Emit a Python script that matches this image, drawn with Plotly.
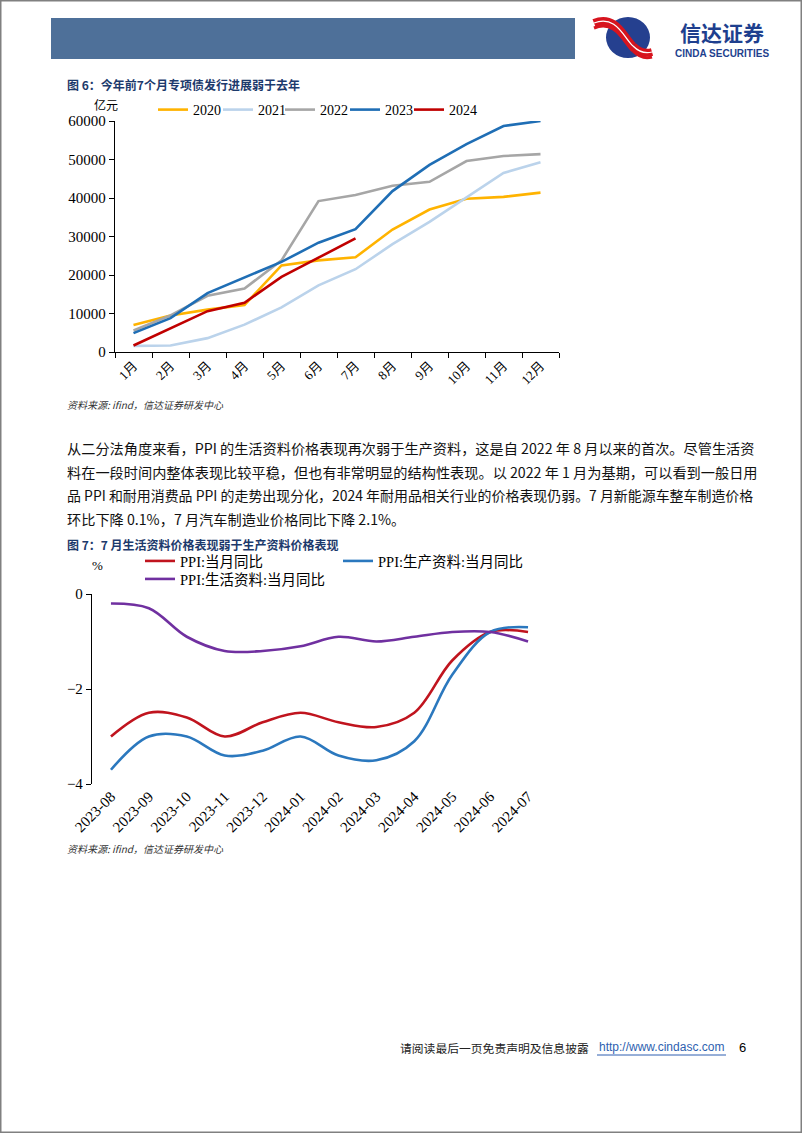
import plotly.graph_objects as go

W, H = 802, 1133
def px(x): return x / W
def py(y): return 1 - y / H

# ---------------- Data: chart 1 (专项债累计发行, 亿元) ----------------
months = ["1月", "2月", "3月", "4月", "5月", "6月", "7月", "8月", "9月", "10月", "11月", "12月"]
y2020 = [7000, 9500, 11000, 12200, 22500, 23800, 24600, 31800, 37000, 39800, 40300, 41400]
y2021 = [1600, 1700, 3600, 7100, 11600, 17300, 21500, 28000, 33800, 40200, 46500, 49300]
y2022 = [5600, 9500, 14600, 16500, 23800, 39200, 40800, 43200, 44200, 49600, 50900, 51400]
y2023 = [4900, 8800, 15300, 19300, 23400, 28400, 31900, 41800, 48600, 54000, 58700, 60000]
y2024 = [1700, 6200, 10600, 12800, 19500, 24500, 29500]

# ---------------- Data: chart 2 (PPI 当月同比, %) ----------------
periods = ["2023-08", "2023-09", "2023-10", "2023-11", "2023-12", "2024-01",
           "2024-02", "2024-03", "2024-04", "2024-05", "2024-06", "2024-07"]
ppi = [-3.0, -2.5, -2.6, -3.0, -2.7, -2.5, -2.7, -2.8, -2.5, -1.4, -0.8, -0.8]
ppi_prod = [-3.7, -3.0, -3.0, -3.4, -3.3, -3.0, -3.4, -3.5, -3.1, -1.7, -0.8, -0.7]
ppi_cons = [-0.2, -0.3, -0.9, -1.2, -1.2, -1.1, -0.9, -1.0, -0.9, -0.8, -0.8, -1.0]

SERIF = "Liberation Serif, Noto Sans CJK SC"
CJK = "Noto Sans CJK SC"
NAVY = "#1d3a6c"

fig = go.Figure()

# legend placement (sample-line start x, row centre y) for each series
c1 = [("2020", y2020, "#FFB300", "legend", 158),
      ("2021", y2021, "#BBD3EB", "legend4", 223),
      ("2022", y2022, "#A6A6A6", "legend5", 285),
      ("2023", y2023, "#1F6EB5", "legend6", 350),
      ("2024", y2024, "#C00000", "legend7", 414)]
for name, vals, col, lg, _ in c1:
    fig.add_trace(go.Scatter(x=months[:len(vals)], y=vals, name=name, mode="lines",
                             line=dict(color=col, width=2.6), xaxis="x", yaxis="y",
                             legend=lg))

c2 = [("PPI:当月同比", ppi, "#C0141E", "legend2", 145, 561),
      ("PPI:生产资料:当月同比", ppi_prod, "#2B78BE", "legend3", 343, 561),
      ("PPI:生活资料:当月同比", ppi_cons, "#7030A0", "legend8", 145, 579)]
for name, vals, col, lg, _, _ in c2:
    fig.add_trace(go.Scatter(x=periods, y=vals, name=name, mode="lines",
                             line=dict(color=col, width=2.6, shape="spline", smoothing=1.0),
                             xaxis="x2", yaxis="y2", legend=lg))

axis_common = dict(showgrid=False, zeroline=False, showline=True, linecolor="black",
                   linewidth=1.3, tickcolor="black", ticklen=5)

layout = dict(
    width=W, height=H, margin=dict(l=0, r=0, t=0, b=0, pad=0, autoexpand=False),
    paper_bgcolor="white", plot_bgcolor="white", showlegend=True,
    xaxis=dict(domain=[px(115), px(559)], anchor="y", type="category",
               range=[-0.5, 11.5], tickson="boundaries", ticks="outside",
               tickangle=-45, tickfont=dict(family=SERIF, size=13, color="black"),
               automargin=False, **axis_common),
    yaxis=dict(domain=[py(352), py(121)], anchor="x", range=[0, 60000], dtick=10000,
               ticks="outside", tickformat="d", automargin=False,
               tickfont=dict(family=SERIF, size=15, color="black"), **axis_common),
    xaxis2=dict(domain=[px(92), px(547)], anchor="y2", type="category",
                range=[-0.5, 11.5], ticks="", showline=False, showgrid=False,
                zeroline=False, tickangle=-45, automargin=False,
                tickfont=dict(family=SERIF, size=15, color="black")),
    xaxis3=dict(domain=[px(92), px(547)], anchor="y2", overlaying="x2", side="top",
                type="linear", range=[-0.5, 11.5], automargin=False,
                tickvals=[i - 0.5 for i in range(13)], ticks="inside",
                showticklabels=False, **axis_common),
    yaxis2=dict(domain=[py(784), py(594)], anchor="x2", range=[-4, 0], dtick=2,
                ticks="outside", tickfont=dict(family=SERIF, size=15, color="black"),
                automargin=False, **axis_common),
)
for name, vals, col, lg, x0 in c1:
    layout[lg] = dict(orientation="h", x=px(x0 - 5), y=py(110), xanchor="left",
                      yanchor="middle", font=dict(family=SERIF, size=14, color="black"),
                      bgcolor="rgba(0,0,0,0)", itemclick=False)
for name, vals, col, lg, x0, yc in c2:
    layout[lg] = dict(orientation="h", x=px(x0 - 5), y=py(yc), xanchor="left",
                      yanchor="middle", font=dict(family=SERIF, size=14.5, color="black"),
                      bgcolor="rgba(0,0,0,0)", itemclick=False)
fig.update_layout(**layout)

ann = []
def text(x, y, s, size=12, color="black", family=CJK, anchor="left", **kw):
    ann.append(dict(x=px(x), y=py(y), xref="paper", yref="paper", text=s,
                    showarrow=False, xanchor=anchor, yanchor="middle",
                    font=dict(size=size, color=color, family=family), **kw))

text(65, 84, "<b>图 6：今年前7个月专项债发行进展弱于去年</b>", size=12, color=NAVY)
text(92, 104, "亿元", size=12)
text(65, 405, "<i>资料来源: ifind，信达证券研发中心</i>", size=10, color="#333333")

lines = [
    "从二分法角度来看，PPI 的生活资料价格表现再次弱于生产资料，这是自 2022 年 8 月以来的首次。尽管生活资",
    "料在一段时间内整体表现比较平稳，但也有非常明显的结构性表现。以 2022 年 1 月为基期，可以看到一般日用",
    "品 PPI 和耐用消费品 PPI 的走势出现分化，2024 年耐用品相关行业的价格表现仍弱。7 月新能源车整车制造价格",
    "环比下降 0.1%，7 月汽车制造业价格同比下降 2.1%。",
]
sizes = [14.2, 14.2, 13.95, 14.2]
for i, ln in enumerate(lines):
    text(65, 448 + i * 23.7, ln, size=sizes[i], color="#111111")

text(65, 545, "<b>图 7：7 月生活资料价格表现弱于生产资料价格表现</b>", size=12, color=NAVY)
text(90, 565, "%", size=13, family=SERIF)
text(65, 848, "<i>资料来源: ifind，信达证券研发中心</i>", size=10, color="#333333")

text(398, 1047, "请阅读最后一页免责声明及信息披露", size=11.8, color="#222222")
text(597, 1047, "http://www.cindasc.com", size=12, color="#2E5FB0", family="Liberation Sans, Arial")
text(737, 1047, "6", size=13, family="Liberation Sans, Arial")

# logo texts
text(722, 32, "<b>信达证券</b>", size=21, color="#1E3F8E", anchor="center")
text(722, 53, "<b>CINDA SECURITIES</b>", size=10, color="#1E3F8E",
     family="Liberation Sans, Arial", anchor="center")
fig.update_layout(annotations=ann)

shapes = []
# page border
shapes.append(dict(type="rect", xref="paper", yref="paper", x0=0, y0=0, x1=1, y1=1,
                   line=dict(color="#808080", width=3), fillcolor="rgba(0,0,0,0)"))
# header band
shapes.append(dict(type="rect", xref="paper", yref="paper", x0=px(51), x1=px(575),
                   y0=py(59), y1=py(18), line=dict(width=0), fillcolor="#4E7099"))
# URL underline
shapes.append(dict(type="line", xref="paper", yref="paper", x0=px(597), x1=px(726),
                   y0=py(1055), y1=py(1055), line=dict(color="#2E5FB0", width=1)))
# logo circle
shapes.append(dict(type="circle", xref="paper", yref="paper", x0=px(606), x1=px(650),
                   y0=py(58), y1=py(17), line=dict(width=0), fillcolor="#25408F"))
def pth(pts):
    (x0, y0), (a, b), (c, d), (x1, y1) = pts
    return (f"M {px(x0)},{py(y0)} C {px(a)},{py(b)} {px(c)},{py(d)} {px(x1)},{py(y1)}")
for off, col, wd in [(0, "#D7141E", 8), (0, "white", 1.3), (5, "#D7141E", 3)]:
    shapes.append(dict(type="path", xref="paper", yref="paper",
                       path=pth([(594, 23 + off), (616, 14 + off), (624, 38 + off), (633, 46 + off)]),
                       line=dict(color=col, width=wd)))
    shapes.append(dict(type="path", xref="paper", yref="paper",
                       path=pth([(633, 46 + off), (639, 52 + off), (645, 54 + off), (652, 52 + off)]),
                       line=dict(color=col, width=wd)))
fig.update_layout(shapes=shapes)

fig.write_html("out.html", config={"displayModeBar": False},
               post_script="document.body.style.margin='0px';document.body.style.overflow='hidden';")
